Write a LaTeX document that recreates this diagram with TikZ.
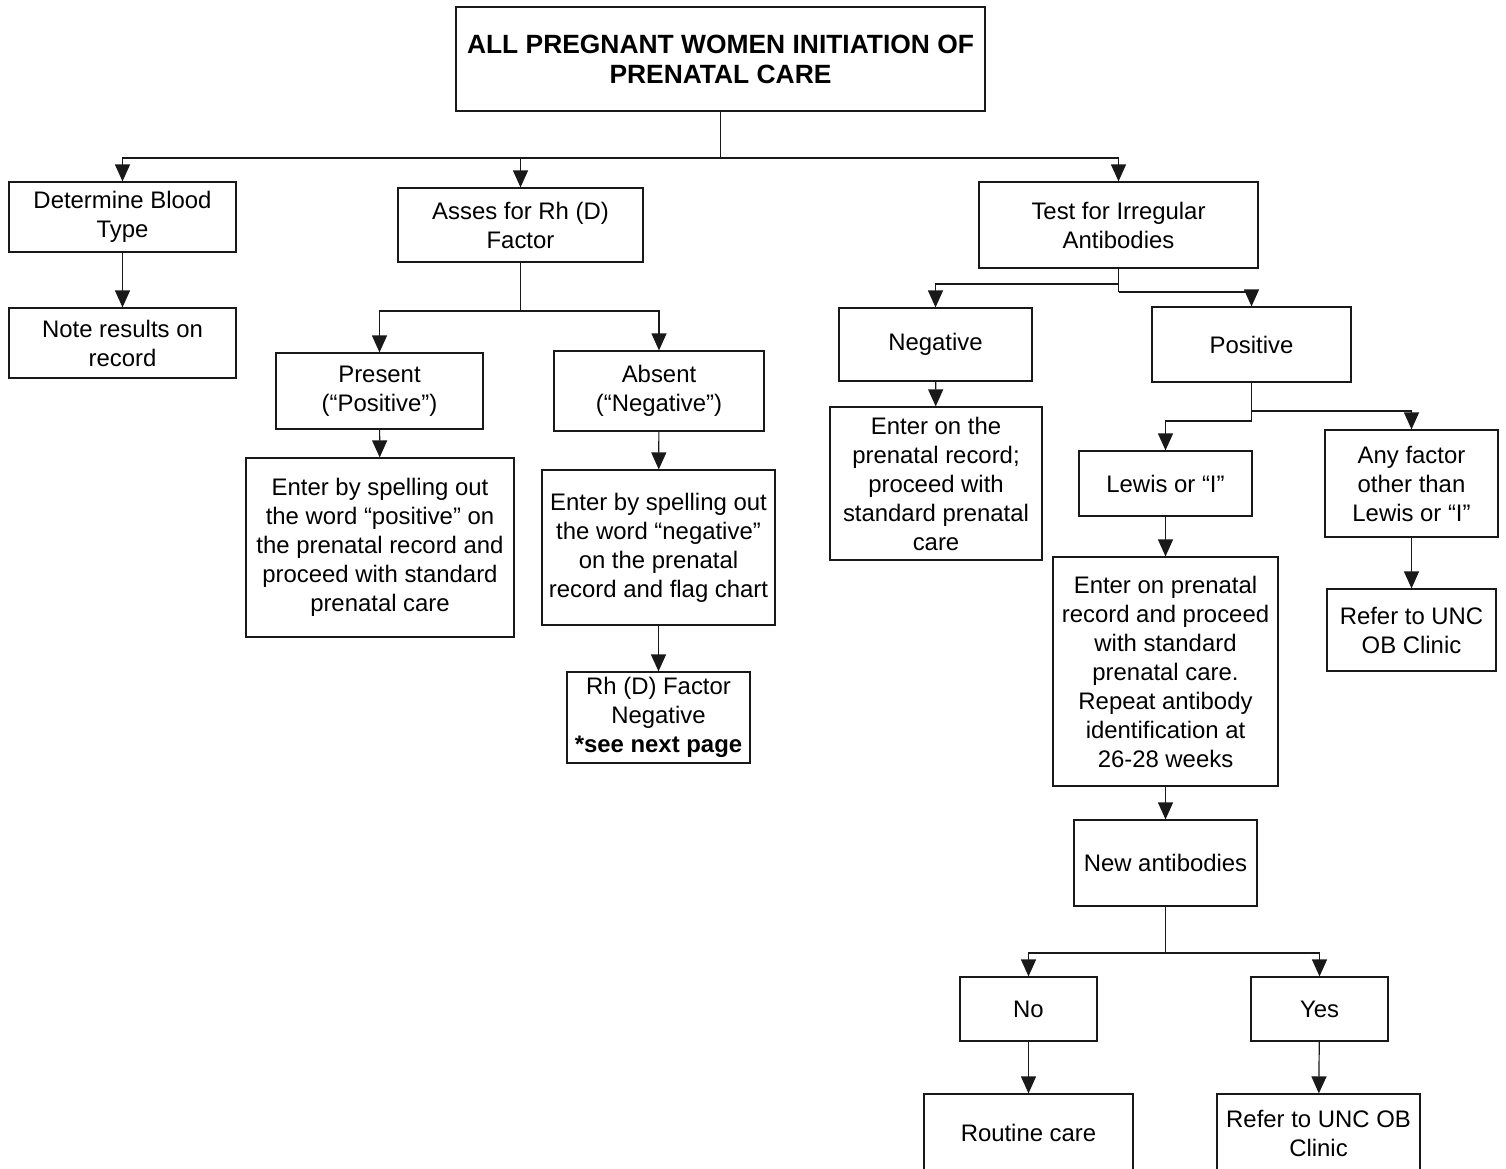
\documentclass[tikz,border=0pt]{standalone}
\usepackage{fontspec}
\setmainfont{Liberation Sans}
\usetikzlibrary{arrows.meta}
\definecolor{ink}{RGB}{25,25,25}
\tikzset{
  box/.style={draw=ink, line width=1.2pt, inner sep=0pt, align=center, text=black,
    font=\fontsize{23.9}{29}\selectfont},
  titlebox/.style={box, font=\fontsize{26.4}{30}\selectfont\bfseries},
  link/.style={draw=ink, line width=1.2pt},
  arr/.style={link, -{Triangle[width=15pt,length=17pt]}}
}
\begin{document}
\begin{tikzpicture}[x=1pt,y=-1pt]
\useasboundingbox (0,0) rectangle (1506,1168);
% nodes
\node[titlebox, minimum width=529pt, minimum height=104pt] (top) at (720.5,59) {ALL PREGNANT WOMEN INITIATION OF\\PRENATAL CARE};
\node[box, minimum width=227pt, minimum height=70pt] (det) at (122.5,217) {Determine Blood\\Type};
\node[box, minimum width=227pt, minimum height=70pt] (note) at (122.5,343) {Note results on\\record};
\node[box, minimum width=245pt, minimum height=74pt] (asses) at (520.5,225) {Asses for Rh (D)\\Factor};
\node[box, minimum width=207pt, minimum height=76pt] (pres) at (379.5,391) {Present\\(“Positive”)};
\node[box, minimum width=268pt, minimum height=179pt] (entpos) at (380,547.5) {Enter by spelling out\\the word “positive” on\\the prenatal record and\\proceed with standard\\prenatal care};
\node[box, minimum width=210pt, minimum height=80pt] (abs) at (659,391) {Absent\\(“Negative”)};
\node[box, minimum width=233pt, minimum height=155pt] (entneg) at (658.5,547.5) {Enter by spelling out\\the word “negative”\\on the prenatal\\record and flag chart};
\node[box, minimum width=183pt, minimum height=91pt] (rh) at (658.5,717.5) {Rh (D) Factor\\Negative\\\textbf{*see next page}};
\node[box, minimum width=279pt, minimum height=86pt] (test) at (1118.5,225) {Test for Irregular\\Antibodies};
\node[box, minimum width=193pt, minimum height=73pt] (neg) at (935.5,344.5) {Negative};
\node[box, minimum width=212pt, minimum height=153pt] (entneg2) at (936,483.5) {Enter on the\\prenatal record;\\proceed with\\standard prenatal\\care};
\node[box, minimum width=199pt, minimum height=75pt] (pos) at (1251.5,344.5) {Positive};
\node[box, minimum width=173pt, minimum height=65pt] (lewis) at (1165.5,483.5) {Lewis or “I”};
\node[box, minimum width=173pt, minimum height=107pt] (any) at (1411.5,483.5) {Any factor\\other than\\Lewis or “I”};
\node[box, minimum width=169pt, minimum height=82pt] (refer1) at (1411.5,630) {Refer to UNC\\OB Clinic};
\node[box, minimum width=225pt, minimum height=229pt] (big) at (1165.5,671.5) {Enter on prenatal\\record and proceed\\with standard\\prenatal care.\\Repeat antibody\\identification at\\26-28 weeks};
\node[box, minimum width=183pt, minimum height=86pt] (newab) at (1165.5,863) {New antibodies};
\node[box, minimum width=137pt, minimum height=64pt] (no) at (1028.5,1009) {No};
\node[box, minimum width=137pt, minimum height=64pt] (yes) at (1319.5,1009) {Yes};
\node[box, minimum width=209pt, minimum height=78pt] (routine) at (1028.5,1133) {Routine care};
\node[box, minimum width=203pt, minimum height=78pt] (refer2) at (1318.5,1133) {Refer to UNC OB\\Clinic};
% junctions
\coordinate (j1) at (720.5,158);
\coordinate (j2) at (520.5,311);
\coordinate (j3a) at (1118.5,284);
\coordinate (j3b) at (1118.5,292);
\coordinate (j4a) at (1251.5,411);
\coordinate (j4b) at (1251.5,421);
\coordinate (j5) at (1165.5,953);
% connectors
\draw[link] (top.south) -- (j1);
\draw[arr] (j1) -| (det.north);
\draw[arr] (j1) -| (asses.north);
\draw[arr] (j1) -| (test.north);
\draw[arr] (det) -- (note);
\draw[link] (asses.south) -- (j2);
\draw[arr] (j2) -| (pres.north);
\draw[arr] (j2) -| (abs.north);
\draw[arr] (pres) -- (entpos);
\draw[arr] (abs) -- (entneg);
\draw[arr] (entneg) -- (rh);
\draw[link] (test.south) -- (j3b);
\draw[arr] (j3a) -| (neg.north);
\draw[arr] (j3b) -| (pos.north);
\draw[arr] (neg) -- (entneg2);
\draw[link] (pos.south) -- (j4b);
\draw[arr] (j4a) -| (any.north);
\draw[arr] (j4b) -| (lewis.north);
\draw[arr] (any) -- (refer1);
\draw[arr] (lewis) -- (big);
\draw[arr] (big) -- (newab);
\draw[link] (newab.south) -- (j5);
\draw[arr] (j5) -| (no.north);
\draw[arr] (j5) -| (yes.north);
\draw[arr] (no) -- (routine);
\draw[arr] (yes) -- (refer2);
\end{tikzpicture}
\end{document}
